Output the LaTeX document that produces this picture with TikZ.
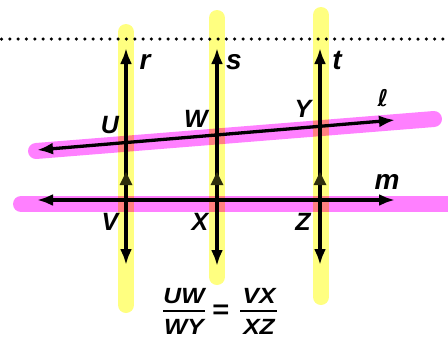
\documentclass[tikz,border=0pt]{standalone}
\usepackage{fontspec}
\setmainfont{Liberation Sans}
\newfontfamily\ellfont{DejaVu Sans}
\usetikzlibrary{arrows.meta}
\definecolor{hlyellow}{RGB}{255,255,128}
\definecolor{hlpink}{RGB}{255,128,255}
\definecolor{midtipcol}{RGB}{45,45,12}
\begin{document}
\begin{tikzpicture}[x=1pt,y=-1pt,
  hl/.style={line width=16pt,line cap=round},
  ln/.style={line width=3.3pt},
  both/.style={ln,{Latex[length=16pt,width=12pt]}-{Latex[length=16pt,width=12pt]}},
  midtip/.style={fill=midtipcol},
  lab/.style={font=\fontsize{25}{27}\selectfont\bfseries\itshape,inner sep=0pt},
  low/.style={font=\fontsize{28}{30}\selectfont\bfseries\itshape,inner sep=0pt},
  eqt/.style={font=\fontsize{22}{24}\selectfont\bfseries\itshape,inner sep=0pt,xscale=1.12,transform shape}
]
\useasboundingbox (0,0) rectangle (448,341);
\begin{scope}
\clip (0,0) rectangle (448,341);
% pink highlighter bands
\coordinate (lA) at (36,151); \coordinate (lB) at (434,119);
\coordinate (mA) at (21,204); \coordinate (mB) at (470,204);
\draw[hl,hlpink] (lA) -- (lB);
\draw[hl,hlpink] (mA) -- (mB);
% yellow highlighter bars
\coordinate (rA) at (126,32);  \coordinate (rB) at (126,305);
\coordinate (sA) at (217,18);  \coordinate (sB) at (217,277);
\coordinate (tA) at (321,15);  \coordinate (tB) at (321,297);
\draw[hl,hlyellow,blend mode=multiply] (rA) -- (rB);
\draw[hl,hlyellow,blend mode=multiply] (sA) -- (sB);
\draw[hl,hlyellow,blend mode=multiply] (tA) -- (tB);
\end{scope}
% dotted line
\coordinate (d1) at (1.5,39); \coordinate (d2) at (448,39);
\draw[line width=3.5pt,line cap=round,dash pattern=on 0pt off 8.33pt] (d1) -- (d2);
% transversals
\coordinate (rT) at (126,48); \coordinate (rD) at (126,265);
\coordinate (sT) at (217,48); \coordinate (sD) at (217,266);
\coordinate (tT) at (320,48); \coordinate (tD) at (320,265);
\draw[both] (rD) -- (rT);
\draw[both] (sD) -- (sT);
\draw[both] (tD) -- (tT);
% middle arrowheads
\coordinate (rM) at (126,172);
\coordinate (sM) at (217,172);
\coordinate (tM) at (320,172);
\fill[midtip] (rM) -- ++(-6.5,13) -- ++(13,0) -- cycle;
\fill[midtip] (sM) -- ++(-6.5,13) -- ++(13,0) -- cycle;
\fill[midtip] (tM) -- ++(-6.5,13) -- ++(13,0) -- cycle;
% lines l and m
\coordinate (lL) at (37,150); \coordinate (lR) at (395,120);
\coordinate (mL) at (37,200); \coordinate (mR) at (395,200);
\draw[both] (lL) -- (lR);
\draw[both] (mL) -- (mR);
% labels
\node[low] (labr) at (145,62) {r};
\node[low] (labs) at (234,62) {s};
\node[low] (labt) at (337,60) {t};
\node[font=\fontsize{23}{25}\selectfont\ellfont\bfseries\itshape,inner sep=0pt] (labl) at (383,98) {ℓ};
\node[low] (labm) at (387,182) {m};
\node[lab] (U) at (110,125) {U};
\node[lab] (W) at (196,119) {W};
\node[lab] (Y) at (303,109) {Y};
\node[lab] (V) at (110,222) {V};
\node[lab] (X) at (200,222) {X};
\node[lab] (Z) at (303,222) {Z};
% proportion
\node[eqt] (n1) at (184,296) {UW};
\node[eqt] (d1n) at (184,327) {WY};
\node[eqt,font=\fontsize{26}{28}\selectfont\bfseries] (eqs) at (221,312) {=};
\node[eqt] (n2) at (259,296) {VX};
\node[eqt] (d2n) at (259,327) {XZ};
\coordinate (b1a) at (163,311); \coordinate (b1b) at (205,311);
\coordinate (b2a) at (240,311); \coordinate (b2b) at (277,311);
\draw[line width=2.5pt] (b1a) -- (b1b);
\draw[line width=2.5pt] (b2a) -- (b2b);
\end{tikzpicture}
\end{document}
